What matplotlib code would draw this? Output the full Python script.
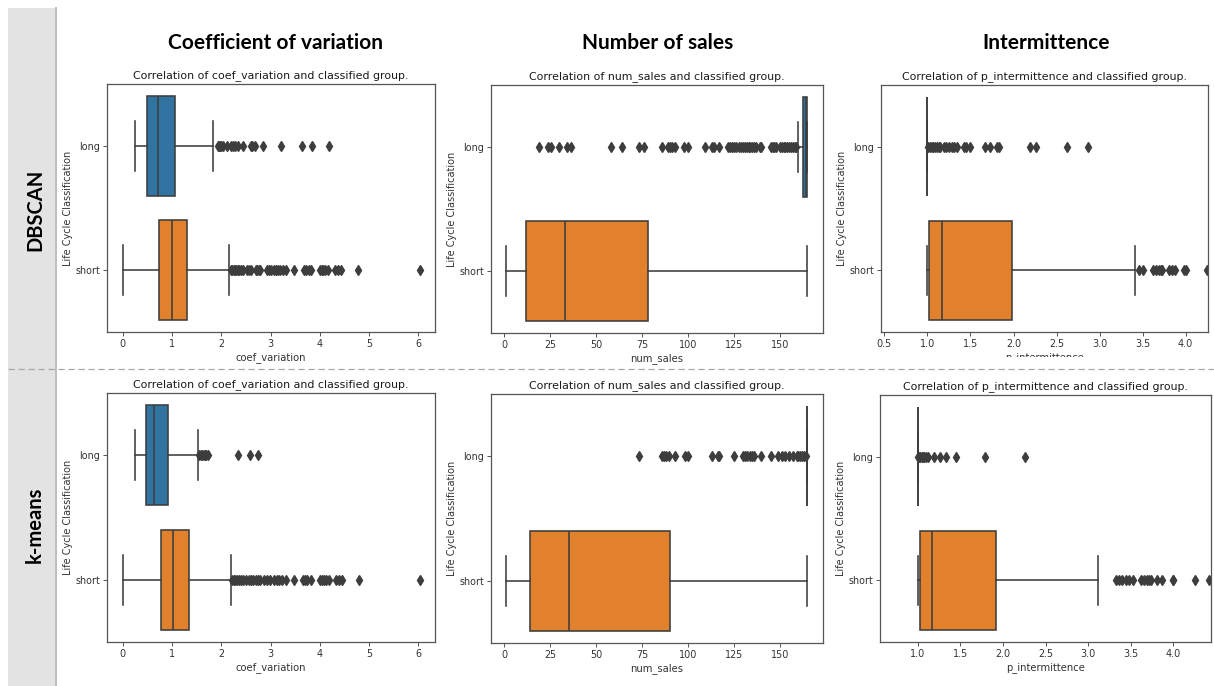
import matplotlib.pyplot as plt
from matplotlib.patches import Rectangle
from matplotlib.lines import Line2D
from matplotlib.transforms import Bbox, TransformedBbox

# groups and panel texts
groups = ["long", "short"]
methods = ["DBSCAN", "k-means"]
features = ["coef_variation", "num_sales", "p_intermittence"]
headers = ["Coefficient of variation", "Number of sales", "Intermittence"]

# box stats per group: whislo, q1, median, q3, whishi
db_cv_long = [0.25, 0.50, 0.71, 1.07, 1.83]
db_cv_short = [0.0, 0.74, 0.99, 1.31, 2.15]
db_cv_long_out = [1.94, 1.96, 1.98, 2.0, 2.03, 2.11, 2.2, 2.24, 2.28, 2.35, 2.45,
                  2.6, 2.63, 2.68, 2.85, 3.21, 3.63, 3.84, 4.19]
db_cv_short_out = [2.19, 2.22, 2.25, 2.28, 2.3, 2.33, 2.36, 2.4, 2.44, 2.53, 2.56,
                   2.6, 2.7, 2.73, 2.76, 2.78, 2.93, 2.96, 3.0, 3.08, 3.12, 3.16,
                   3.2, 3.26, 3.32, 3.47, 3.67, 3.72, 3.78, 3.82, 4.0, 4.04, 4.07,
                   4.1, 4.17, 4.3, 4.38, 4.44, 4.78, 6.04]

db_ns_long = [160, 162.5, 164, 165, 165]
db_ns_short = [1, 12, 33, 78, 165]
db_ns_long_out = [19, 24, 25.5, 30, 34, 36, 58, 64, 73.5, 76, 86, 89, 90, 91, 93,
                  98, 100, 109, 113, 114, 117, 122, 123, 124, 125, 126, 128, 129,
                  130, 131, 132, 133, 134, 135, 136, 137, 139, 140, 145, 146, 147,
                  148, 150, 151, 152, 153, 154, 155, 156, 157, 158, 159]
db_ns_short_out = []

db_pi_long = [1.0, 1.0, 1.0, 1.0, 1.0]
db_pi_short = [1.0, 1.02, 1.17, 1.98, 3.41]
db_pi_long_out = [1.01, 1.03, 1.05, 1.07, 1.09, 1.11, 1.13, 1.15, 1.19, 1.22, 1.25,
                  1.28, 1.31, 1.34, 1.43, 1.45, 1.5, 1.67, 1.73, 1.81, 1.83, 2.19,
                  2.26, 2.62, 2.86]
db_pi_short_out = [3.46, 3.51, 3.62, 3.66, 3.69, 3.71, 3.73, 3.81, 3.84, 3.88,
                   3.98, 4.0, 4.25]

km_cv_long = [0.25, 0.47, 0.63, 0.91, 1.52]
km_cv_short = [0.0, 0.77, 1.01, 1.35, 2.19]
km_cv_long_out = [1.55, 1.58, 1.61, 1.64, 1.67, 1.7, 1.74, 2.34, 2.58, 2.74]
km_cv_short_out = [2.22, 2.25, 2.28, 2.32, 2.36, 2.4, 2.45, 2.5, 2.56, 2.6, 2.64,
                   2.7, 2.74, 2.78, 2.86, 2.92, 2.98, 3.08, 3.13, 3.18, 3.24, 3.32,
                   3.47, 3.65, 3.7, 3.75, 3.82, 4.0, 4.04, 4.08, 4.13, 4.19, 4.33,
                   4.4, 4.45, 4.79, 6.04]

km_ns_long = [165, 165, 165, 165, 165]
km_ns_short = [1, 13.8, 35, 90, 165]
km_ns_long_out = [73.5, 86, 87, 88, 89.5, 93, 98.5, 100, 113, 116.5, 117, 125, 130,
                  131, 132, 134, 135, 136, 139.5, 145, 149, 151, 153, 155, 157,
                  159.5, 160, 161, 162, 163, 164]
km_ns_short_out = []

km_pi_long = [1.0, 1.0, 1.0, 1.0, 1.0]
km_pi_short = [1.0, 1.03, 1.17, 1.92, 3.12]
km_pi_long_out = [1.0, 1.02, 1.03, 1.05, 1.06, 1.08, 1.1, 1.12, 1.19, 1.26, 1.33,
                  1.45, 1.79, 2.26]
km_pi_short_out = [3.33, 3.36, 3.4, 3.44, 3.48, 3.52, 3.62, 3.66, 3.69, 3.71, 3.74,
                   3.81, 3.87, 3.99, 4.0, 4.25, 4.42]

W, H = 1214, 686
fig = plt.figure(figsize=(W / 100, H / 100), dpi=100)

BLUE = "#3274a1"
ORANGE = "#e1812c"
GRAY = "#3d3d3d"
LW = 1.15


def add_ax(l, t, r, b):
    return fig.add_axes([l / W, 1 - b / H, (r - l) / W, (b - t) / H])


def boxpanel(ax, feature, long_s, long_out, short_s, short_out):
    stats = []
    for lab, s, out in zip(groups, [long_s, short_s], [long_out, short_out]):
        stats.append(dict(label=lab, whislo=s[0], q1=s[1], med=s[2], q3=s[3],
                          whishi=s[4], fliers=out))
    res = ax.bxp(stats, positions=[0, 1], widths=0.8, orientation="horizontal",
                 patch_artist=True,
                 boxprops=dict(edgecolor=GRAY, linewidth=LW),
                 medianprops=dict(color=GRAY, linewidth=LW),
                 whiskerprops=dict(color=GRAY, linewidth=LW),
                 capprops=dict(color=GRAY, linewidth=LW),
                 flierprops=dict(marker="d", markerfacecolor=GRAY,
                                 markeredgecolor=GRAY, markersize=4.8,
                                 linestyle="none"))
    for patch, c in zip(res["boxes"], [BLUE, ORANGE]):
        patch.set_facecolor(c)
    ax.set_ylim(1.5, -0.5)
    ax.set_yticks([0, 1])
    ax.set_yticklabels(groups)
    ax.set_title(f"Correlation of {feature} and classified group.", fontsize=7.9,
                 pad=4, color="#1a1a1a")
    ax.set_xlabel(feature, fontsize=7.2, color="#333333", labelpad=2)
    ax.set_ylabel("Life Cycle Classification", fontsize=7.0, color="#333333", labelpad=2)
    ax.tick_params(labelsize=6.9, length=3, width=0.7, color="#555555",
                   labelcolor="#333333", pad=2)
    for sp in ax.spines.values():
        sp.set_color("#555555")
        sp.set_linewidth(0.9)


# top row: DBSCAN
ax1 = add_ax(107, 84, 435, 332)
boxpanel(ax1, features[0], db_cv_long, db_cv_long_out, db_cv_short, db_cv_short_out)
ax1.set_xlim(-0.32, 6.34)
ax1.set_xticks(range(0, 7))

ax2 = add_ax(491, 85, 823, 333)
boxpanel(ax2, features[1], db_ns_long, db_ns_long_out, db_ns_short, db_ns_short_out)
ax2.set_xlim(-7.3, 173.5)
ax2.set_xticks(range(0, 151, 25))

ax3 = add_ax(881, 85, 1208, 332)
boxpanel(ax3, features[2], db_pi_long, db_pi_long_out, db_pi_short, db_pi_short_out)
ax3.set_xlim(0.46, 4.26)
ax3.set_xticks([0.5, 1.0, 1.5, 2.0, 2.5, 3.0, 3.5, 4.0])
# the label of this panel is cut off at the bottom
lbl = ax3.xaxis.label
lbl.set_clip_on(True)
lbl.set_clip_box(TransformedBbox(Bbox.from_extents(0, 1 - 357 / H, 1, 1), fig.transFigure))

# bottom row: k-means
ax4 = add_ax(107, 393, 435, 642)
boxpanel(ax4, features[0], km_cv_long, km_cv_long_out, km_cv_short, km_cv_short_out)
ax4.set_xlim(-0.32, 6.34)
ax4.set_xticks(range(0, 7))

ax5 = add_ax(491, 394, 823, 643)
boxpanel(ax5, features[1], km_ns_long, km_ns_long_out, km_ns_short, km_ns_short_out)
ax5.set_xlim(-7.3, 173.5)
ax5.set_xticks(range(0, 151, 25))

ax6 = add_ax(880, 395, 1211, 642)
boxpanel(ax6, features[2], km_pi_long, km_pi_long_out, km_pi_short, km_pi_short_out)
ax6.set_xlim(0.56, 4.44)
ax6.set_xticks([1.0, 1.5, 2.0, 2.5, 3.0, 3.5, 4.0])

# gray side band with row labels
fig.add_artist(Rectangle((8 / W, 0), 47 / W, 1 - 8 / H, transform=fig.transFigure,
                         facecolor="#e3e3e3", edgecolor="none", zorder=0))
fig.add_artist(Line2D([55.5 / W] * 2, [0, 1 - 8 / H], transform=fig.transFigure,
                      color="#bdbdbd", lw=1.4))
fig.add_artist(Line2D([8 / W, 1], [1 - 369 / H] * 2, transform=fig.transFigure,
                      color="#a8a8a8", lw=0.9, ls=(0, (5, 3))))

for name, yc in zip(methods, [210, 525]):
    fig.text(35 / W, 1 - yc / H, name, rotation=90, ha="center", va="center",
             fontsize=14.5, fontweight="bold", family="Lato")

for head, xc in zip(headers, [275, 658, 1046]):
    fig.text(xc / W, 1 - 43 / H, head, ha="center", va="center",
             fontsize=15, fontweight="bold", family="Lato")

fig.savefig("out.png", dpi=100)
